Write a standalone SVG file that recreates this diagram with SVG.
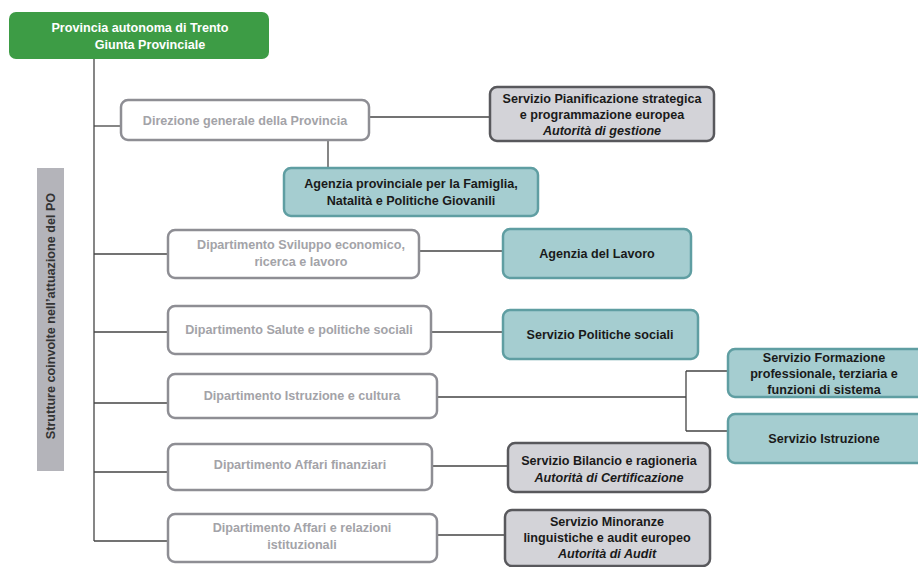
<svg xmlns="http://www.w3.org/2000/svg" width="918" height="567" viewBox="0 0 918 567">
<style>
text{font-family:"Liberation Sans",Arial,sans-serif;font-weight:bold;font-size:12.6px;text-anchor:middle}
.dept rect{fill:#fff;stroke:#8e8e94;stroke-width:2.5}
.dept text{fill:#a3a3a8}
.teal rect{fill:#a5cdd0;stroke:#5f9ea2;stroke-width:2.5}
.teal text{fill:#1a1a1a}
.grey rect{fill:#d3d3d8;stroke:#58585c;stroke-width:2.5}
.grey text{fill:#1a1a1a}
.it{font-style:italic}
#conn path{fill:none;stroke:#444;stroke-width:1.3}
</style>
<rect width="918" height="567" fill="#fff"/>
<g id="conn">
<path d="M94 59V541"/>
<path d="M94 126H121"/>
<path d="M369 117H490"/>
<path d="M328 141V168"/>
<path d="M94 254H168"/>
<path d="M419 251H503"/>
<path d="M94 332H168"/>
<path d="M431 332H503"/>
<path d="M94 403H168"/>
<path d="M437 397H686M686 371V431M686 371H728M686 431H728"/>
<path d="M94 472H168"/>
<path d="M432 466H508"/>
<path d="M94 541H168"/>
<path d="M437 535H505"/>
</g>
<g id="root">
<rect x="9" y="12" width="260" height="47" rx="7" fill="#3d9c45"/>
<text x="140" y="32" fill="#fff" font-size="14.3">Provincia autonoma di Trento</text>
<text x="150" y="49" fill="#fff" font-size="14.3">Giunta Provinciale</text>
</g>
<g id="strutture">
<rect x="37" y="168" width="27" height="303" fill="#b4b4ba"/>
<text transform="translate(55 316) rotate(-90)" fill="#333" font-size="12.8">Strutture coinvolte nell’attuazione del PO</text>
</g>
<g id="direzione" class="dept">
<rect x="121" y="100" width="248" height="40" rx="7"/>
<text x="245" y="125">Direzione generale della Provincia</text>
</g>
<g id="pianificazione" class="grey">
<rect x="490" y="87" width="224" height="54" rx="7"/>
<text x="602" y="103">Servizio Pianificazione strategica</text>
<text x="602" y="119">e programmazione europea</text>
<text x="602" y="135" class="it">Autorità di gestione</text>
</g>
<g id="agenzia-famiglia" class="teal">
<rect x="284" y="168" width="254" height="48" rx="7"/>
<text x="411" y="188">Agenzia provinciale per la Famiglia,</text>
<text x="411" y="205">Natalità e Politiche Giovanili</text>
</g>
<g id="sviluppo" class="dept">
<rect x="168" y="230" width="251" height="48" rx="7"/>
<text x="301" y="249">Dipartimento Sviluppo economico,</text>
<text x="301" y="266">ricerca e lavoro</text>
</g>
<g id="agenzia-lavoro" class="teal">
<rect x="503" y="229" width="188" height="49" rx="7"/>
<text x="597" y="258">Agenzia del Lavoro</text>
</g>
<g id="salute" class="dept">
<rect x="168" y="306" width="263" height="48" rx="7"/>
<text x="299" y="334">Dipartimento Salute e politiche sociali</text>
</g>
<g id="politiche-sociali" class="teal">
<rect x="503" y="310" width="195" height="49" rx="7"/>
<text x="600" y="339">Servizio Politiche sociali</text>
</g>
<g id="istruzione-cultura" class="dept">
<rect x="168" y="374" width="269" height="44" rx="7"/>
<text x="302" y="400">Dipartimento Istruzione e cultura</text>
</g>
<g id="formazione" class="teal">
<rect x="728" y="349" width="196" height="48" rx="7"/>
<text x="824" y="362">Servizio Formazione</text>
<text x="824" y="378">professionale, terziaria e</text>
<text x="824" y="394">funzioni di sistema</text>
</g>
<g id="istruzione" class="teal">
<rect x="728" y="414" width="196" height="49" rx="7"/>
<text x="824" y="443">Servizio Istruzione</text>
</g>
<g id="finanziari" class="dept">
<rect x="168" y="444" width="264" height="46" rx="7"/>
<text x="300" y="469">Dipartimento Affari finanziari</text>
</g>
<g id="bilancio" class="grey">
<rect x="508" y="443" width="202" height="49" rx="7"/>
<text x="609" y="465">Servizio Bilancio e ragioneria</text>
<text x="609" y="482" class="it">Autorità di Certificazione</text>
</g>
<g id="relazioni" class="dept">
<rect x="168" y="514" width="269" height="48" rx="7"/>
<text x="302" y="532">Dipartimento Affari e relazioni</text>
<text x="302" y="549">istituzionali</text>
</g>
<g id="minoranze" class="grey">
<rect x="505" y="510" width="205" height="56" rx="7"/>
<text x="607" y="526">Servizio Minoranze</text>
<text x="607" y="542">linguistiche e audit europeo</text>
<text x="607" y="558" class="it">Autorità di Audit</text>
</g>
</svg>
